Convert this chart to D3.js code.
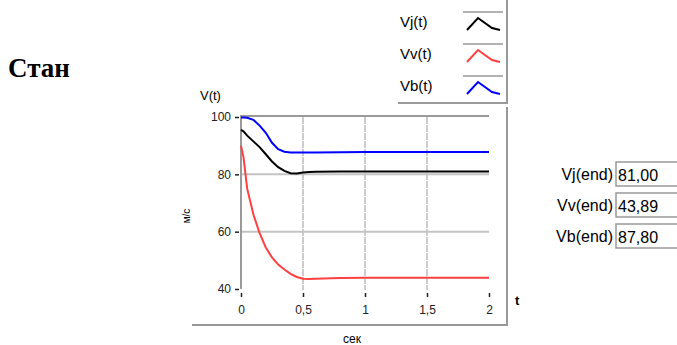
<!DOCTYPE html>
<html>
<head>
<meta charset="utf-8">
<script src="https://cdn.jsdelivr.net/npm/d3@7"></script>
<style>
  body { margin: 0; background: #fff; }
  svg { display: block; font-family: "Liberation Sans", Arial, sans-serif; }
</style>
</head>
<body>
<svg id="chart" width="677" height="345"></svg>
<script>
// time samples (сек)
const times = [0, 0.02, 0.05, 0.1, 0.15, 0.2, 0.25, 0.3, 0.35, 0.4, 0.45, 0.5, 0.55, 0.6, 0.8, 1, 1.2, 1.5, 1.8, 2];
// speeds (м/с)
const vj = [95.5, 95, 93.5, 91.5, 89.5, 87, 84.5, 82.5, 81.2, 80.4, 80.3, 80.6, 80.8, 80.9, 81, 81, 81, 81, 81, 81];
const vv = [90, 86, 75, 66, 59.5, 54.5, 51, 48.5, 46.8, 45.3, 44.2, 43.6, 43.5, 43.6, 43.85, 43.89, 43.89, 43.89, 43.89, 43.89];
const vb = [99.8, 99.8, 99.7, 99, 97, 94.5, 91, 88.8, 87.9, 87.6, 87.6, 87.6, 87.6, 87.6, 87.7, 87.8, 87.8, 87.8, 87.8, 87.8];

const seriesNames = ["Vj(t)", "Vv(t)", "Vb(t)"];
const seriesColors = ["#000000", "#ff4040", "#0000ff"];
const endLabels = ["Vj(end)", "Vv(end)", "Vb(end)"];
const endValues = ["81,00", "43,89", "87,80"];

const yTicks = [40, 60, 80, 100];
const xTicks = [0, 0.5, 1, 1.5, 2];

const svg = d3.select("#chart");

// title
svg.append("text")
  .attr("x", 8).attr("y", 77)
  .style("font-family", "'Liberation Serif', 'Times New Roman', serif")
  .style("font-weight", "bold")
  .style("font-size", "27px")
  .text("Стан");

const x = d3.scaleLinear().domain([0, 2]).range([241, 489]);
const y = d3.scaleLinear().domain([40, 100]).range([289, 117]);

// grid
const grid = svg.append("g");
grid.selectAll("line.v")
  .data([0.5, 1, 1.5])
  .join("line")
  .attr("x1", d => x(d)).attr("x2", d => x(d))
  .attr("y1", y(100)).attr("y2", y(40) + 1)
  .attr("stroke", "#cccccc").attr("stroke-width", 2)
  .attr("stroke-dasharray", "7,1");
grid.selectAll("line.h")
  .data([60, 80])
  .join("line")
  .attr("x1", x(0)).attr("x2", x(2))
  .attr("y1", d => y(d)).attr("y2", d => y(d))
  .attr("stroke", "#c4c4c4").attr("stroke-width", 2);

// plot border (top + left)
svg.append("line")
  .attr("x1", x(0)).attr("x2", x(2))
  .attr("y1", y(100) - 1).attr("y2", y(100) - 1)
  .attr("stroke", "#999").attr("stroke-width", 2);
svg.append("line")
  .attr("x1", x(0)).attr("x2", x(0))
  .attr("y1", y(100) - 2).attr("y2", y(40))
  .attr("stroke", "#999").attr("stroke-width", 2);

// y axis
const yAxis = svg.append("g")
  .attr("transform", `translate(${x(0) - 2},0)`)
  .call(d3.axisLeft(y).tickValues(yTicks).tickSize(4).tickPadding(4));
yAxis.select(".domain").remove();
yAxis.selectAll("text").style("font-size", "12px").attr("fill", "#222");
yAxis.selectAll("line").attr("stroke", "#222").attr("stroke-width", 1.5);

// x axis
const xAxis = svg.append("g")
  .attr("transform", `translate(0,${y(40) + 4})`)
  .call(d3.axisBottom(x).tickValues(xTicks).tickSize(4).tickPadding(8)
    .tickFormat(d => String(d).replace(".", ",")));
xAxis.select(".domain").remove();
xAxis.selectAll("text").style("font-size", "12px").attr("fill", "#222");
xAxis.selectAll("line").attr("stroke", "#222").attr("stroke-width", 1.5);

// axis titles
svg.append("text").attr("x", 200).attr("y", 100)
  .style("font-size", "13px").text("V(t)");
svg.append("text")
  .attr("transform", "translate(190,216) rotate(-90)")
  .attr("text-anchor", "middle")
  .style("font-size", "10px").text("м/с");
svg.append("text").attr("x", 352).attr("y", 343)
  .attr("text-anchor", "middle")
  .style("font-size", "12px").text("сек");
svg.append("text").attr("x", 515).attr("y", 305)
  .style("font-size", "13px").style("font-weight", "bold").text("t");

// outer frame
svg.append("path")
  .attr("d", "M192,325 H507 V107 M507,0 V103 H398")
  .attr("fill", "none").attr("stroke", "#999").attr("stroke-width", 2);

// series
const line = d3.line()
  .x((d, i) => x(times[i]))
  .y(d => y(d));
[vj, vv, vb].forEach((s, k) => {
  svg.append("path")
    .datum(s)
    .attr("fill", "none")
    .attr("stroke", seriesColors[k])
    .attr("stroke-width", 2)
    .attr("d", line);
});

// legend
const legend = svg.append("g");
seriesNames.forEach((name, k) => {
  const cy = 22 + k * 32;
  legend.append("text")
    .attr("x", 400).attr("y", cy + 5)
    .style("font-size", "15px")
    .text(name);
  legend.append("line")
    .attr("x1", 463).attr("x2", 503)
    .attr("y1", cy - 10).attr("y2", cy - 10)
    .attr("stroke", "#999").attr("stroke-width", 1.5);
  legend.append("path")
    .attr("d", `M467,${cy + 8} L478,${cy - 4} L492,${cy + 6} L500,${cy + 8}`)
    .attr("fill", "none")
    .attr("stroke", seriesColors[k])
    .attr("stroke-width", 2);
});

// end values
endLabels.forEach((lab, k) => {
  const cy = 174 + k * 31;
  svg.append("text")
    .attr("x", 613).attr("y", cy + 6)
    .attr("text-anchor", "end")
    .style("font-size", "16px")
    .text(lab);
  svg.append("rect")
    .attr("x", 616).attr("y", cy - 12)
    .attr("width", 62).attr("height", 24)
    .attr("fill", "#fff")
    .attr("stroke", "#999").attr("stroke-width", 1.5);
  svg.append("text")
    .attr("x", 618).attr("y", cy + 7)
    .style("font-size", "16px")
    .text(endValues[k]);
});
</script>
</body>
</html>
